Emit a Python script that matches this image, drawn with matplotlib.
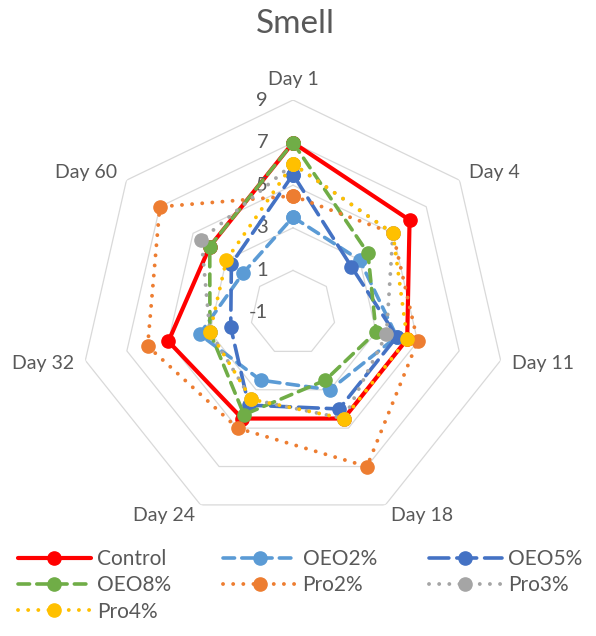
import matplotlib
matplotlib.use('Agg')
import matplotlib.pyplot as plt
import matplotlib.transforms as mtransforms
import numpy as np

plt.rcParams['font.family'] = ['Lato', 'DejaVu Sans']

# ---------- data ----------
days = ['Day 1', 'Day 4', 'Day 11', 'Day 18', 'Day 24', 'Day 32', 'Day 60']
control = [7.0, 6.0, 4.5, 4.5, 4.5, 5.0, 4.0]
oeo2 = [3.5, 3.0, 4.0, 3.0, 2.5, 3.5, 2.0]
oeo5 = [5.5, 2.5, 4.0, 4.0, 3.8, 2.0, 2.7]
oeo8 = [7.0, 3.5, 3.0, 2.5, 4.3, 3.0, 4.0]
pro2 = [4.5, 5.0, 5.0, 7.0, 5.0, 6.0, 7.0]
pro3 = [6.0, 5.0, 3.5, 4.5, 3.5, 3.0, 4.5]
pro4 = [6.0, 5.0, 4.5, 4.5, 3.5, 3.0, 3.0]
ring_levels = [1, 3, 5, 7, 9]
tick_levels = [-1, 1, 3, 5, 7, 9]

# name, values, colour, line style, line width
series = [
    ('Control', control, '#FF0000', '-', 3.0),
    ('OEO2%', oeo2, '#5B9BD5', (0, (3.2, 2.0)), 2.6),
    ('OEO5%', oeo5, '#4472C4', (0, (5.5, 2.2)), 2.6),
    ('OEO8%', oeo8, '#70AD47', (0, (3.2, 2.0)), 2.6),
    ('Pro2%', pro2, '#ED7D31', (0, (0.01, 2.6)), 2.8),
    ('Pro3%', pro3, '#A5A5A5', (0, (0.01, 2.6)), 2.8),
    ('Pro4%', pro4, '#FFC000', (0, (0.01, 2.6)), 2.8),
]

grey_txt = '#595959'

fig = plt.figure(figsize=(5.96, 6.36), dpi=100)
ax = fig.add_axes([80 / 596, (636 - 526) / 636, 426 / 596, 426 / 636], projection='polar')
ax.set_theta_zero_location('N')
ax.set_theta_direction(-1)
ax.set_ylim(-1, 9)
ax.grid(False)
ax.spines['polar'].set_visible(False)
ax.set_xticks([])
ax.set_yticks([])
ax.patch.set_alpha(0)

n = len(days)
angles = np.arange(n) * 2 * np.pi / n
closed = np.append(angles, angles[0])

# heptagon grid
for lev in ring_levels:
    ax.plot(closed, [lev] * (n + 1), color='#D9D9D9', lw=0.9, zorder=1)

handles = {}
for k, (name, vals, col, ls, lw) in enumerate(series):
    v = np.append(vals, vals[0])
    ln, = ax.plot(closed, v, color=col, ls=ls, lw=lw, marker='o', ms=9.5,
                  mfc=col, mec=col, dash_capstyle='round',
                  solid_capstyle='round', clip_on=False, zorder=3 + k,
                  label=name)
    handles[name] = ln

# radial value labels, to the left of the Day 1 spoke
tr = mtransforms.offset_copy(ax.transData, fig=fig, x=-25, y=0, units='dots')
for v in tick_levels:
    ax.text(0, v, str(v), transform=tr, ha='right', va='center',
            fontsize=14.5, color=grey_txt)

# category labels
for ang, lab in zip(angles, days):
    s, c = np.sin(ang), np.cos(ang)
    ha = 'left' if s > 0.1 else ('right' if s < -0.1 else 'center')
    va = 'bottom' if c > 0.9 else 'center'
    trl = mtransforms.offset_copy(ax.transData, fig=fig, x=12 * s, y=12 * c, units='dots')
    ax.text(ang, 9, lab, transform=trl, ha=ha, va=va, fontsize=14, color=grey_txt)

fig.text(0.495, 1 - 24 / 636, 'Smell', ha='center', va='center',
         fontsize=24, color=grey_txt)

order = ['Control', 'OEO8%', 'Pro4%', 'OEO2%', 'Pro2%', 'OEO5%', 'Pro3%']
leg = fig.legend([handles[o] for o in order], order, ncol=3, loc='upper left',
                 bbox_to_anchor=(18 / 596, 1 - 549 / 636), frameon=False,
                 fontsize=15, handlelength=3.5, handletextpad=0.3,
                 columnspacing=2.5, labelspacing=0.3, borderaxespad=0,
                 borderpad=0)
for t in leg.get_texts():
    t.set_color(grey_txt)

fig.savefig('out.png', dpi=100)
